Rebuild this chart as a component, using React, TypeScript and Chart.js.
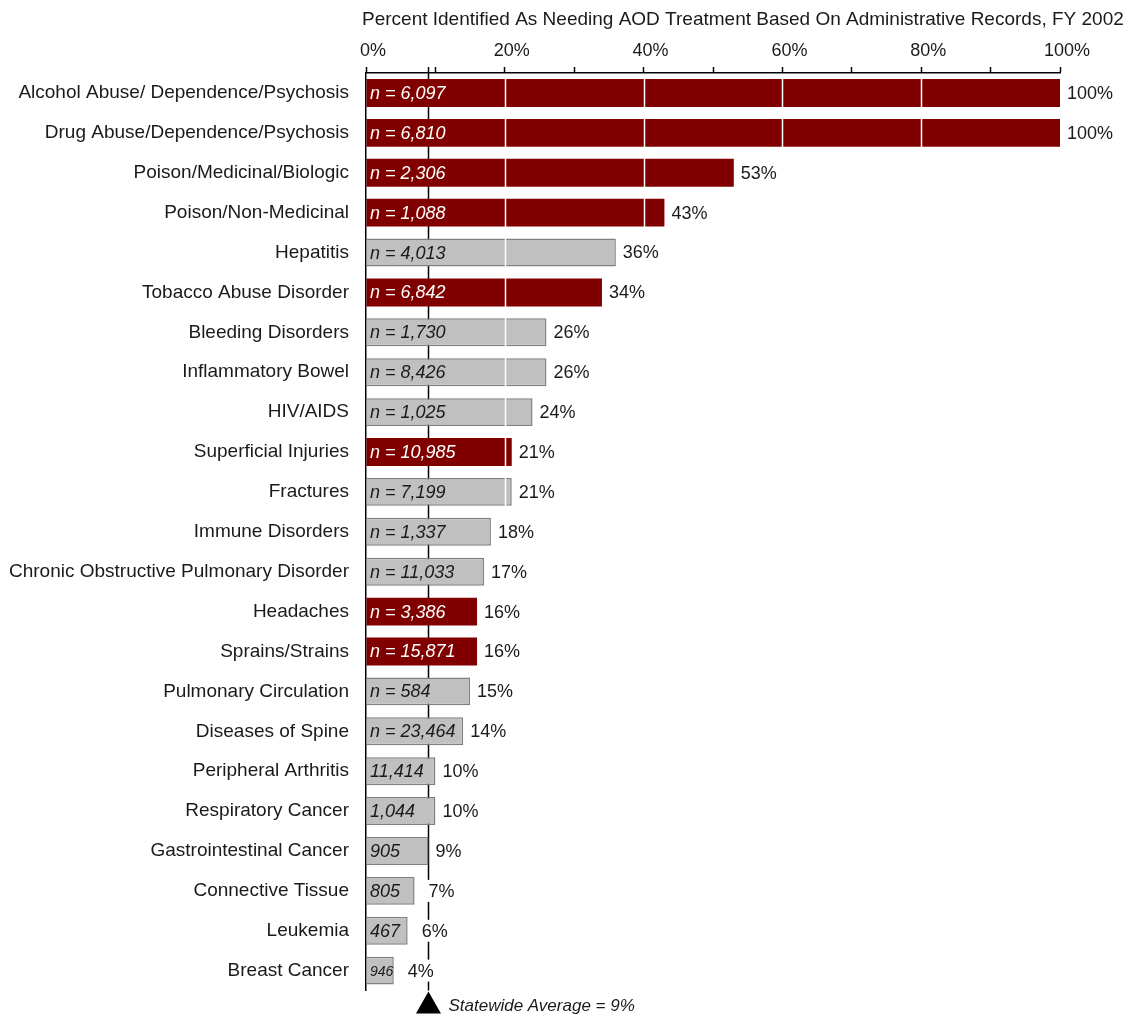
import React, { useEffect, useRef } from "react";
import { Chart, registerables } from "chart.js";

Chart.register(...registerables);

const categories = [
  "Alcohol Abuse/ Dependence/Psychosis",
  "Drug Abuse/Dependence/Psychosis",
  "Poison/Medicinal/Biologic",
  "Poison/Non-Medicinal",
  "Hepatitis",
  "Tobacco Abuse Disorder",
  "Bleeding Disorders",
  "Inflammatory Bowel",
  "HIV/AIDS",
  "Superficial Injuries",
  "Fractures",
  "Immune Disorders",
  "Chronic Obstructive Pulmonary Disorder",
  "Headaches",
  "Sprains/Strains",
  "Pulmonary Circulation",
  "Diseases of Spine",
  "Peripheral Arthritis",
  "Respiratory Cancer",
  "Gastrointestinal Cancer",
  "Connective Tissue",
  "Leukemia",
  "Breast Cancer",
];

const percents = [100, 100, 53, 43, 36, 34, 26, 26, 24, 21, 21, 18, 17, 16, 16, 15, 14, 10, 10, 9, 7, 6, 4];

const counts = [6097, 6810, 2306, 1088, 4013, 6842, 1730, 8426, 1025, 10985, 7199, 1337, 11033, 3386, 15871, 584, 23464, 11414, 1044, 905, 805, 467, 946];

const highlighted = [true, true, true, true, false, true, false, false, false, true, false, false, false, true, true, false, false, false, false, false, false, false, false];

const statewideAverage = 9;
const gridValues = [20, 40, 60, 80];
const titleText = "Percent Identified As Needing AOD Treatment Based On Administrative Records, FY 2002";
const averageText = "Statewide Average = 9%";

const FONT = "'Liberation Sans', Arial, sans-serif";
const RED = "#800000";
const GREY = "#C0C0C0";
const GREY_BORDER = "#808080";
const TEXT = "#1a1a1a";

const overlayPlugin = {
  id: "overlay",
  beforeDatasetsDraw(chart: any) {
    const { ctx, chartArea, scales } = chart;
    const x = Math.round(scales.x.getPixelForValue(statewideAverage)) + 0.5;
    ctx.save();
    ctx.strokeStyle = "#000";
    ctx.lineWidth = 1.5;
    ctx.beginPath();
    ctx.moveTo(x, chartArea.top - 6);
    ctx.lineTo(x, chartArea.bottom);
    ctx.stroke();
    ctx.restore();
  },
  afterDatasetsDraw(chart: any) {
    const { ctx, chartArea, scales } = chart;
    ctx.save();
    ctx.strokeStyle = "#ffffff";
    ctx.lineWidth = 1.5;
    gridValues.forEach((v) => {
      const x = Math.round(scales.x.getPixelForValue(v)) + 0.5;
      ctx.beginPath();
      ctx.moveTo(x, chartArea.top + 1);
      ctx.lineTo(x, chartArea.bottom);
      ctx.stroke();
    });
    const meta = chart.getDatasetMeta(0);
    const left = scales.x.getPixelForValue(0);
    meta.data.forEach((bar: any, i: number) => {
      const barEnd = bar.x;
      const barWidth = barEnd - left;
      const num = counts[i].toLocaleString("en-US");
      const full = `n = ${num}`;
      let size = 18;
      ctx.font = `italic ${size}px ${FONT}`;
      let txt = full;
      if (ctx.measureText(full).width + 8 > barWidth) {
        txt = num;
        const w = ctx.measureText(num).width;
        if (w + 4 > barWidth) {
          size = Math.floor((size * (barWidth - 3)) / w);
          ctx.font = `italic ${size}px ${FONT}`;
        }
      }
      ctx.fillStyle = highlighted[i] ? "#ffffff" : TEXT;
      ctx.textAlign = "left";
      ctx.textBaseline = "middle";
      ctx.fillText(txt, left + 4, bar.y + 1);

      ctx.font = `18px ${FONT}`;
      const p = `${percents[i]}%`;
      const pw = ctx.measureText(p).width;
      const px = barEnd + (percents[i] < statewideAverage ? 14 : 7);
      ctx.fillStyle = "#ffffff";
      ctx.fillRect(px - 3, bar.y - 11, pw + 6, 22);
      ctx.fillStyle = TEXT;
      ctx.fillText(p, px, bar.y + 1);
    });
    ctx.restore();
  },
  afterDraw(chart: any) {
    const { ctx, chartArea, scales } = chart;
    ctx.save();
    ctx.fillStyle = TEXT;
    ctx.font = `19px ${FONT}`;
    ctx.textAlign = "left";
    ctx.textBaseline = "middle";
    ctx.fillText(titleText, 362, 20);

    const x = scales.x.getPixelForValue(statewideAverage);
    const top = chartArea.bottom + 1;
    ctx.fillStyle = "#000";
    ctx.beginPath();
    ctx.moveTo(x, top);
    ctx.lineTo(x + 12.5, top + 22);
    ctx.lineTo(x - 12.5, top + 22);
    ctx.closePath();
    ctx.fill();

    ctx.fillStyle = TEXT;
    ctx.font = `italic 17px ${FONT}`;
    ctx.fillText(averageText, x + 20, top + 15);
    ctx.restore();
  },
};

export default function App() {
  const ref = useRef<HTMLCanvasElement | null>(null);
  useEffect(() => {
    document.body.style.margin = "0";
    const canvas = ref.current;
    if (!canvas) return;
    const chart = new Chart(canvas, {
      type: "bar",
      data: {
        labels: categories,
        datasets: [
          {
            data: percents,
            backgroundColor: highlighted.map((h) => (h ? RED : GREY)),
            borderColor: highlighted.map((h) => (h ? RED : GREY_BORDER)),
            borderWidth: highlighted.map((h) => (h ? 0 : 1.5)),
            borderSkipped: "start",
            categoryPercentage: 1,
            barPercentage: 0.7,
          },
        ],
      },
      options: {
        indexAxis: "y",
        responsive: false,
        animation: false,
        devicePixelRatio: 1,
        layout: { padding: { left: 0, top: 0, right: 80, bottom: 26 } },
        plugins: {
          legend: { display: false },
          tooltip: { enabled: false },
          title: { display: false },
        },
        scales: {
          x: {
            position: "top",
            min: 0,
            max: 100,
            afterFit: (s: any) => {
              s.height = 73;
            },
            ticks: {
              stepSize: 10,
              autoSkip: false,
              maxRotation: 0,
              padding: 5,
              labelOffset: 7,
              color: TEXT,
              font: { family: FONT, size: 18 },
              callback: (v: any) => (Number(v) % 20 === 0 ? `${v}%` : ""),
            },
            grid: {
              drawOnChartArea: false,
              drawTicks: true,
              tickLength: 6,
              tickColor: "#000",
              tickWidth: 1.5,
              color: "#000",
            },
            border: { display: true, color: "#000", width: 1.5 },
          },
          y: {
            position: "left",
            afterFit: (s: any) => {
              s.width = 366;
            },
            ticks: {
              padding: 17,
              color: TEXT,
              font: { family: FONT, size: 19 },
              autoSkip: false,
            },
            grid: { display: false, drawTicks: false },
            border: { display: true, color: "#000", width: 1.5 },
          },
        },
      },
      plugins: [overlayPlugin],
    } as any);
    return () => chart.destroy();
  }, []);
  return <canvas ref={ref} width={1140} height={1019} style={{ display: "block" }} />;
}
